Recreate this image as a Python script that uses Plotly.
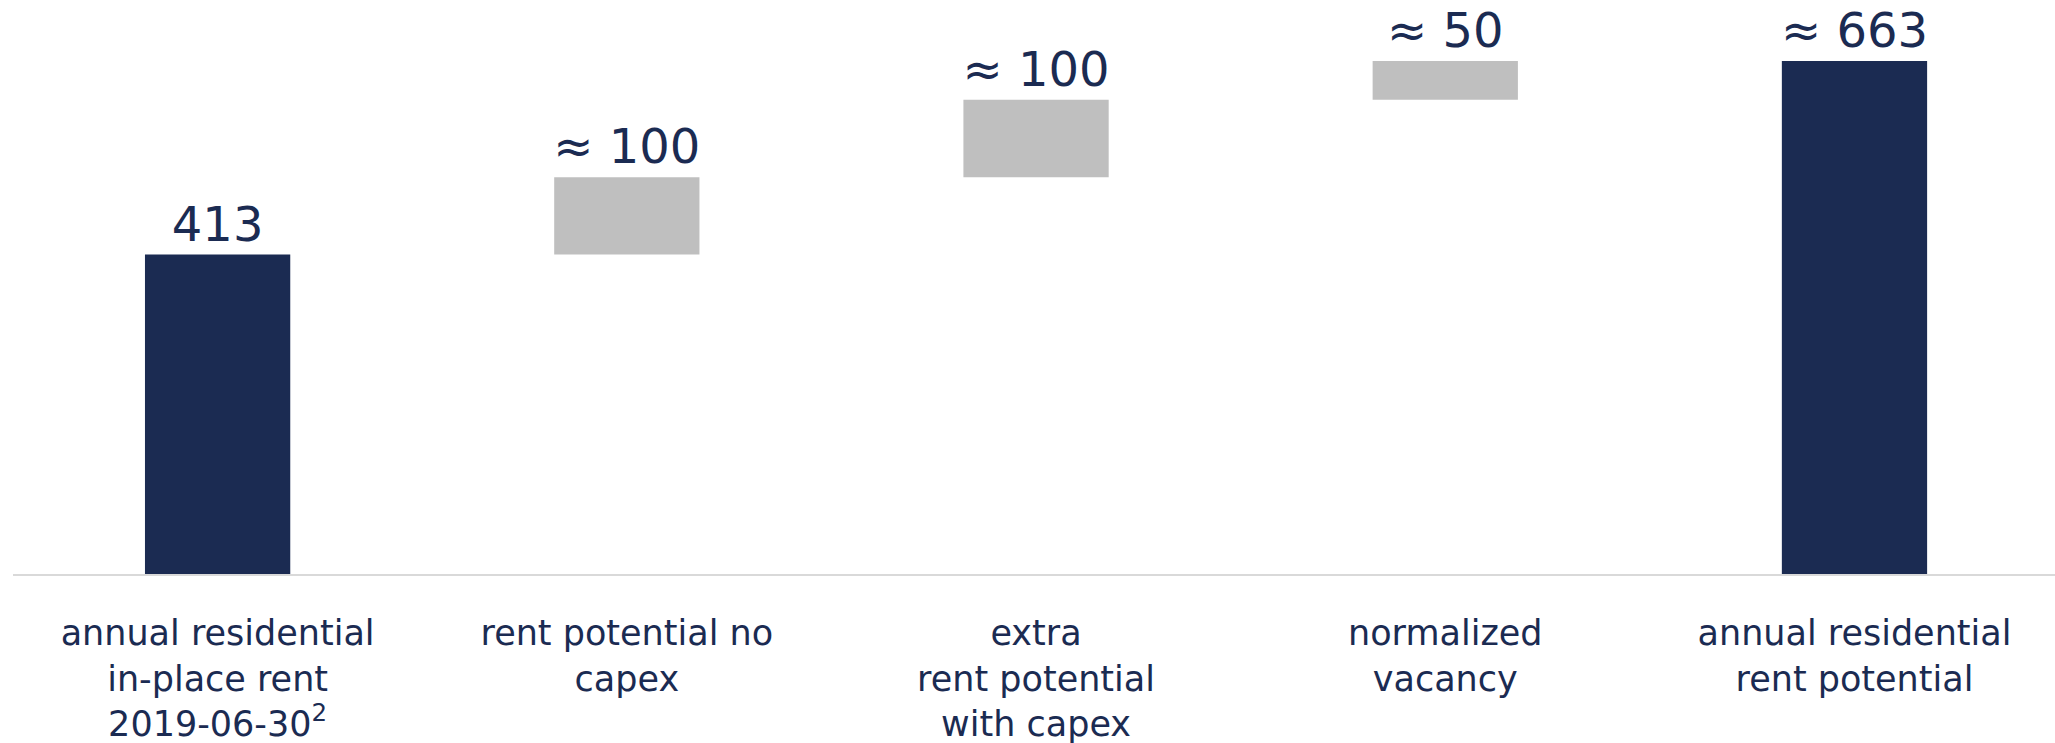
import plotly.graph_objects as go

# Rent bridge: in-place rent -> uplift steps -> rent potential
categories = [
    "annual residential<br>in-place rent<br>2019-06-30<sup>2</sup>",
    "rent potential no<br>capex",
    "extra<br>rent potential<br>with capex",
    "normalized<br>vacancy",
    "annual residential<br>rent potential",
]
values = [413, 100, 100, 50, 663]
kinds = ["total", "step", "step", "step", "total"]
value_labels = ["413", "≈ 100", "≈ 100", "≈ 50", "≈ 663"]

NAVY = "#1b2b52"
GREY = "#bfbfbf"

# floating bases for the step bars, running total from the first bar
bases, heights, colors = [], [], []
running = 0
for v, k in zip(values, kinds):
    if k == "total":
        bases.append(0)
        heights.append(v)
        colors.append(NAVY)
        running = v
    else:
        bases.append(running)
        heights.append(v)
        colors.append(GREY)
        running += v

x_pos = list(range(len(categories)))

fig = go.Figure(
    go.Bar(
        x=x_pos,
        y=heights,
        base=bases,
        width=0.355,
        marker=dict(color=colors, line=dict(width=0)),
        text=value_labels,
        textposition="outside",
        textfont=dict(family="DejaVu Sans", size=48, color=NAVY),
        constraintext="none",
        cliponaxis=False,
        hoverinfo="skip",
    )
)

fig.update_layout(
    width=2055,
    height=743,
    margin=dict(l=13, r=0, t=0, b=169),
    paper_bgcolor="white",
    plot_bgcolor="white",
    showlegend=False,
    font=dict(family="DejaVu Sans", color=NAVY),
)
fig.update_xaxes(
    range=[-0.5, 4.49],
    tickmode="array",
    tickvals=x_pos,
    ticktext=categories,
    tickfont=dict(family="DejaVu Sans", size=35, color=NAVY),
    showline=True,
    linecolor="#d9d9d9",
    linewidth=2,
    showgrid=False,
    zeroline=False,
    ticks="",
    ticklabelstandoff=27,
    automargin=False,
)
fig.update_yaxes(
    range=[0, 742],
    visible=False,
    showgrid=False,
    zeroline=False,
    automargin=False,
)

fig.write_html("out.html")
